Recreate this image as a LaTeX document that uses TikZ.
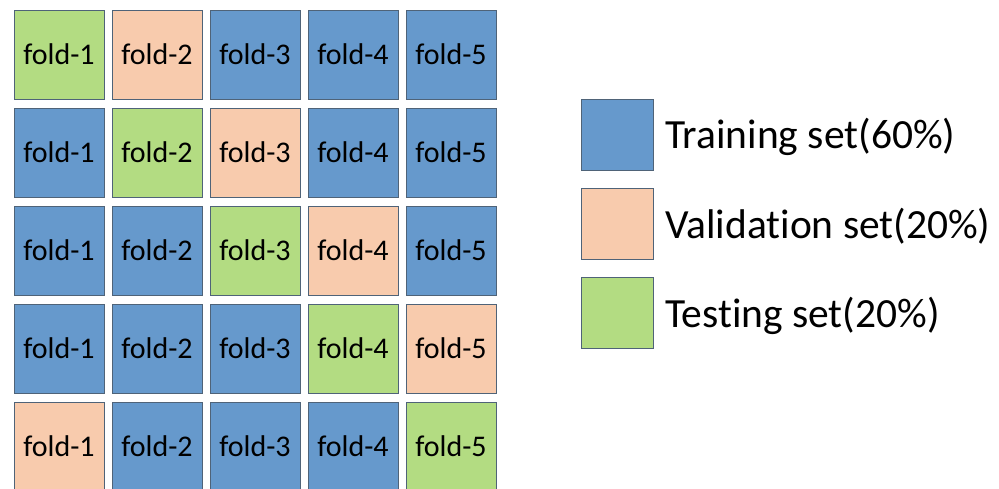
\documentclass[tikz,border=0pt]{standalone}
\usepackage{fontspec}
\setmainfont{Carlito}[Ligatures=NoCommon]
\usetikzlibrary{positioning}
\definecolor{trainBlue}{HTML}{6699CC}
\definecolor{validPeach}{HTML}{F8CBAD}
\definecolor{testGreen}{HTML}{B3DC82}
\definecolor{edgeGrey}{HTML}{4F6378}

\tikzset{
  foldbox/.style={draw=edgeGrey,line width=0.8pt,minimum width=90pt,minimum height=89pt,
    inner sep=0pt,font=\fontsize{30}{31}\selectfont},
  keybox/.style={draw=edgeGrey,line width=0.8pt,minimum width=72pt,minimum height=71pt,inner sep=0pt},
  keytext/.style={anchor=west,inner sep=0pt,font=\fontsize{41.5}{43}\selectfont}
}

\begin{document}
\begin{tikzpicture}[x=1pt,y=-1pt]
  \useasboundingbox (0,0) rectangle (999,488);
  % five rounds of five folds
  \foreach \r in {1,...,5}{
    \foreach \c in {1,...,5}{
      \pgfmathtruncatemacro{\val}{mod(\r,5)+1}
      \ifnum\c=\r
        \def\fc{testGreen}
      \else\ifnum\c=\val
        \def\fc{validPeach}
      \else
        \def\fc{trainBlue}
      \fi\fi
      \node[foldbox,fill=\fc] (f-\r-\c) at ({59+98*(\c-1)},{54.5+98*(\r-1)}) {fold-\c};
    }
  }
  % legend
  \node[keybox,fill=trainBlue] (k-train) at (617,135) {};
  \node[keybox,fill=validPeach] (k-valid) at (617,224) {};
  \node[keybox,fill=testGreen] (k-test) at (617,313) {};
  \node[keytext] (t-train) at (665,137) {Training set(60\%)};
  \node[keytext] (t-valid) at (665,226) {Validation set(20\%)};
  \node[keytext] (t-test) at (665,316) {Testing set(20\%)};
\end{tikzpicture}
\end{document}
